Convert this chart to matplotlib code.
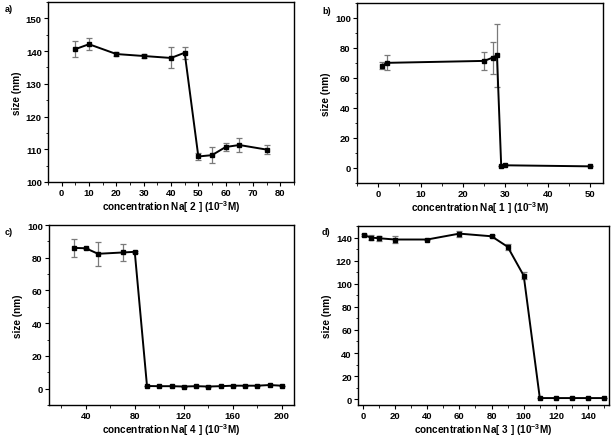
import matplotlib
matplotlib.use("Agg")
import matplotlib.pyplot as plt
from matplotlib.ticker import MultipleLocator

plt.rcParams['font.family'] = ['Liberation Sans', 'DejaVu Sans']
plt.rcParams['font.weight'] = 'bold'
plt.rcParams['mathtext.fontset'] = 'custom'
plt.rcParams['mathtext.bf'] = 'Liberation Sans:bold'
plt.rcParams['mathtext.rm'] = 'Liberation Sans:bold'
plt.rcParams['mathtext.default'] = 'bf'

# panel a: Na[2]
a_x = [5, 10, 20, 30, 40, 45, 50, 55, 60, 65, 75]
a_y = [140.6, 142.1, 139.1, 138.5, 137.9, 139.5, 107.8, 108.2, 110.7, 111.3, 109.9]
a_err = [2.4, 1.9, 0.5, 0.5, 3.2, 1.9, 1.2, 2.5, 1.3, 2.1, 1.3]

# panel b: Na[1]
b_x = [1, 2, 25, 27, 28, 29, 30, 50]
b_y = [68.3, 70.1, 71.4, 73.6, 75.2, 1.3, 1.8, 1.1]
b_err = [2.5, 5.0, 5.8, 10.6, 21.0, 0, 0, 0]

# panel c: Na[4]
c_x = [30, 40, 50, 70, 80, 90, 100, 110, 120, 130, 140, 150, 160, 170, 180, 190, 200]
c_y = [86.0, 85.8, 82.4, 83.2, 83.6, 1.6, 1.5, 1.5, 1.3, 1.5, 1.3, 1.5, 1.8, 1.8, 1.8, 2.2, 1.8]
c_err = [5.3, 0.4, 7.3, 5.3, 0.6, 0, 0, 0, 0, 0, 0, 0, 0, 0, 0, 0, 0]

# panel d: Na[3]
d_x = [1, 5, 10, 20, 40, 60, 80, 90, 100, 110, 120, 130, 140, 150]
d_y = [142.0, 140.0, 139.4, 138.3, 138.3, 143.4, 141.1, 132.0, 107.0, 1.0, 1.0, 1.0, 1.0, 1.0]
d_err = [1.0, 2.0, 2.0, 3.0, 0.8, 2.5, 1.0, 2.5, 3.0, 0, 0, 0, 0, 0]

W, H = 613, 439
fig = plt.figure(figsize=(W / 100, H / 100), dpi=100)


def box(l, r, t, b):
    return [l / W, 1 - b / H, (r - l) / W, (b - t) / H]


panels = [
    (box(48, 294, 3, 183), a_x, a_y, a_err, 'a)', '2', (-5, 85), (100, 155), 10, 5, 10, 5, (5, 10)),
    (box(357, 603, 4, 184), b_x, b_y, b_err, 'b)', '1', (-5, 53), (-10, 110), 10, 5, 20, 10, (322, 12)),
    (box(49, 294, 226, 406), c_x, c_y, c_err, 'c)', '4', (10, 210), (-10, 100), 40, 20, 20, 10, (5, 233)),
    (box(358, 609, 227, 406), d_x, d_y, d_err, 'd)', '3', (-3, 153), (-5, 150), 20, 10, 20, 10, (322, 233)),
]

for rect, xs, ys, errs, tag, num, xl, yl, xmaj, xmin, ymaj, ymin, tpos in panels:
    ax = fig.add_axes(rect)
    ax.errorbar(xs, ys, yerr=errs, color='black', ecolor='#7a7a7a', elinewidth=0.9,
                capsize=2, capthick=0.9, lw=1.4, marker='s', ms=2.5, zorder=3)
    ax.set_xlim(*xl)
    ax.set_ylim(*yl)
    ax.xaxis.set_major_locator(MultipleLocator(xmaj))
    ax.xaxis.set_minor_locator(MultipleLocator(xmin))
    ax.yaxis.set_major_locator(MultipleLocator(ymaj))
    ax.yaxis.set_minor_locator(MultipleLocator(ymin))
    ax.tick_params(which='major', direction='out', length=3, width=0.8, labelsize=6.8, pad=1.5)
    ax.tick_params(which='minor', direction='out', length=1.8, width=0.6)
    for sp in ax.spines.values():
        sp.set_linewidth(1.0)
    for lab in ax.get_xticklabels() + ax.get_yticklabels():
        lab.set_fontweight('bold')
    ax.set_xlabel('concentration Na[ ' + num + ' ] (10$^{-3}$M)', fontsize=7.2, fontweight='bold', labelpad=0.5)
    ax.set_ylabel('size (nm)', fontsize=7.2, fontweight='bold', labelpad=3)
    fig.text(tpos[0] / W, 1 - tpos[1] / H, tag, fontsize=6.5, fontweight='bold', va='center')

fig.savefig('out.png', dpi=100)
